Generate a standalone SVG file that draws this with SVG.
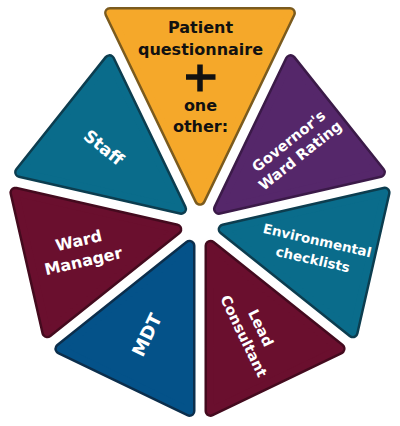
<svg xmlns="http://www.w3.org/2000/svg" width="400" height="426" viewBox="0 0 400 426">
<defs>
<style>
.edge{stroke-width:12;stroke-linejoin:round}
.body{stroke-width:7;stroke-linejoin:round}
.lbl{font-family:"DejaVu Sans","Liberation Sans",sans-serif;font-weight:bold;text-anchor:middle;fill:#fff}
.dark{fill:#111}
.o-e{fill:#7B5B1E;stroke:#7B5B1E}.o-b{fill:#F5A82A;stroke:#F5A82A}
.t-e{fill:#0C3D4F;stroke:#0C3D4F}.t-b{fill:#0A6C8B;stroke:#0A6C8B}
.p-e{fill:#3B1A48;stroke:#3B1A48}.p-b{fill:#55276A;stroke:#55276A}
.m-e{fill:#440A1E;stroke:#440A1E}.m-b{fill:#6A0F2E;stroke:#6A0F2E}
.b-e{fill:#0B2E4C;stroke:#0B2E4C}.b-b{fill:#045289;stroke:#045289}
</style>
</defs>
<g id="patient">
<polygon class="edge o-e" points="200,199.8 110.04,13 289.96,13"/>
<polygon class="body o-b" points="200,199.8 110.04,13 289.96,13"/>
<text class="lbl dark" font-size="16" x="200.5" y="33">Patient</text>
<text class="lbl dark" font-size="16" x="200.5" y="54.5">questionnaire</text>
<path d="M186 77H215.5M200 64.5V91.5" stroke="#111" stroke-width="5.5" fill="none"/>
<text class="lbl dark" font-size="16" x="200.5" y="111">one</text>
<text class="lbl dark" font-size="16" x="200.5" y="132">other:</text>
</g>
<g id="governor" transform="rotate(51.4286 200 224)">
<polygon class="edge p-e" points="200,199.8 128.34,51 271.66,51"/>
<polygon class="body p-b" points="200,199.8 128.34,51 271.66,51"/>
<g transform="rotate(-90 200 103)">
<text class="lbl" font-size="14.5" x="200" y="98.5">Governor's</text>
<text class="lbl" font-size="14.5" x="200" y="117">Ward Rating</text>
</g>
</g>
<g id="environmental" transform="rotate(102.8571 200 224)">
<polygon class="edge t-e" points="200,199.8 128.34,51 271.66,51"/>
<polygon class="body t-b" points="200,199.8 128.34,51 271.66,51"/>
<g transform="rotate(-90 200 106)">
<text class="lbl" font-size="13.5" x="200" y="100.7">Environmental</text>
<text class="lbl" font-size="13.5" x="200" y="120.3">checklists</text>
</g>
</g>
<g id="lead" transform="rotate(154.2857 200 224)">
<polygon class="edge m-e" points="200,199.8 128.34,51 271.66,51"/>
<polygon class="body m-b" points="200,199.8 128.34,51 271.66,51"/>
<g transform="rotate(-90 200 104)">
<text class="lbl" font-size="14.5" x="200" y="99.3">Lead</text>
<text class="lbl" font-size="14.5" x="200" y="118.3">Consultant</text>
</g>
</g>
<g id="mdt" transform="rotate(-154.2857 200 224)">
<polygon class="edge b-e" points="200,199.8 128.34,51 271.66,51"/>
<polygon class="body b-b" points="200,199.8 128.34,51 271.66,51"/>
<g transform="rotate(90 200 101)">
<text class="lbl" font-size="18" x="200" y="107.5">MDT</text>
</g>
</g>
<g id="ward-manager" transform="rotate(-102.8571 200 224)">
<polygon class="edge m-e" points="200,199.8 128.34,51 271.66,51"/>
<polygon class="body m-b" points="200,199.8 128.34,51 271.66,51"/>
<g transform="rotate(90 200 102)">
<text class="lbl" font-size="16" x="200" y="96.8">Ward</text>
<text class="lbl" font-size="16" x="200" y="117.8">Manager</text>
</g>
</g>
<g id="staff" transform="rotate(-51.4286 200 224)">
<polygon class="edge t-e" points="200,199.8 128.34,51 271.66,51"/>
<polygon class="body t-b" points="200,199.8 128.34,51 271.66,51"/>
<g transform="rotate(90 200 101)">
<text class="lbl" font-size="17" x="200" y="107.2">Staff</text>
</g>
</g>
<g id="connectors"/>
</svg>
